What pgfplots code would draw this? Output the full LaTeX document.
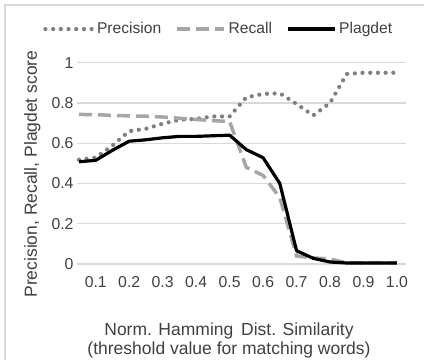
\documentclass[border=0pt]{standalone}
\usepackage{pgfplots}
\pgfplotsset{compat=1.18}
\usepackage{fontspec}
\setmainfont{Liberation Sans}
\definecolor{txt}{HTML}{404040}
\definecolor{grid}{HTML}{D9D9D9}
\definecolor{prec}{HTML}{7F7F7F}
\definecolor{rec}{HTML}{A6A6A6}
\begin{document}
\begin{tikzpicture}
\useasboundingbox (0,0) rectangle (424bp,360bp);
\draw[color=grid, line width=1.3bp] (5bp,0) -- (5bp,355bp) -- (424bp,355bp);
\begin{axis}[
  at={(77bp,96bp)}, anchor=south west,
  scale only axis, width=329bp, height=201.3bp,
  xmin=0.044, xmax=1.027, ymin=0, ymax=1,
  /pgf/number format/assume math mode=true,
  axis line style={draw=none},
  axis x line*=bottom,
  x axis line style={draw=grid, line width=1.3bp},
  axis y line*=left,
  y axis line style={draw=none},
  tick style={draw=none},
  ymajorgrids, grid style={color=grid, line width=1.3bp},
  ytick={0,0.2,0.4,0.6,0.8,1},
  yticklabels={0,0.2,0.4,0.6,0.8,1},
  xtick={0.1,0.2,0.3,0.4,0.5,0.6,0.7,0.8,0.9,1.0},
  xticklabels={0.1,0.2,0.3,0.4,0.5,0.6,0.7,0.8,0.9,1.0},
  ticklabel style={font=\fontsize{15.8bp}{18bp}\selectfont, color=txt},
  xticklabel style={yshift=-9bp},
  xlabel={Norm. Hamming\, Dist. Similarity\\(threshold value for matching words)},
  xlabel style={at={(axis description cs:0.462,-0.3775)}, anchor=center, align=center,
    font=\fontsize{17.5bp}{19bp}\selectfont, color=txt},
  ylabel={Precision, Recall, Plagdet score},
  ylabel style={at={(axis description cs:-0.1216,0.447)}, anchor=base,
    font=\fontsize{17.5bp}{19bp}\selectfont, color=txt},
  legend columns=3,
  legend style={at={(axis description cs:0.4316,1.167)}, anchor=center,
    draw=none, fill=none, font=\fontsize{15.6bp}{18bp}\selectfont, text=txt,
    /tikz/every even column/.append style={column sep=12bp},
    nodes={inner sep=2.5bp}},
  legend image code/.code={\draw[#1] (0bp,0bp) -- (47bp,0bp);},
]
\addplot[color=prec, line width=4.2bp, dash pattern=on 0bp off 7.7bp, line cap=round] coordinates {
(0.05,0.518) (0.10,0.528) (0.15,0.589) (0.20,0.660) (0.25,0.672) (0.30,0.697)
(0.35,0.716) (0.40,0.721) (0.45,0.733) (0.50,0.733) (0.55,0.828) (0.60,0.845)
(0.65,0.848) (0.70,0.795) (0.75,0.738) (0.80,0.800) (0.85,0.944) (0.90,0.950)
(0.95,0.950) (1.00,0.950)
};
\addlegendentry{Precision}
\addplot[color=rec, line width=3.5bp, dash pattern=on 13bp off 6bp] coordinates {
(0.05,0.743) (0.10,0.742) (0.15,0.738) (0.20,0.736) (0.25,0.734) (0.30,0.730)
(0.35,0.724) (0.40,0.718) (0.45,0.712) (0.50,0.708) (0.55,0.480) (0.60,0.440)
(0.65,0.330) (0.70,0.040) (0.75,0.030) (0.80,0.025) (0.85,0.005) (0.90,0.005)
(0.95,0.005) (1.00,0.005)
};
\addlegendentry{Recall}
\addplot[color=black, line width=3.2bp, line join=round] coordinates {
(0.05,0.508) (0.10,0.515) (0.15,0.565) (0.20,0.610) (0.25,0.617) (0.30,0.627)
(0.35,0.634) (0.40,0.634) (0.45,0.637) (0.50,0.640) (0.55,0.568) (0.60,0.528)
(0.65,0.400) (0.70,0.066) (0.75,0.028) (0.80,0.010) (0.85,0.005) (0.90,0.005)
(0.95,0.005) (1.00,0.005)
};
\addlegendentry{Plagdet}
\end{axis}
\end{tikzpicture}
\end{document}
